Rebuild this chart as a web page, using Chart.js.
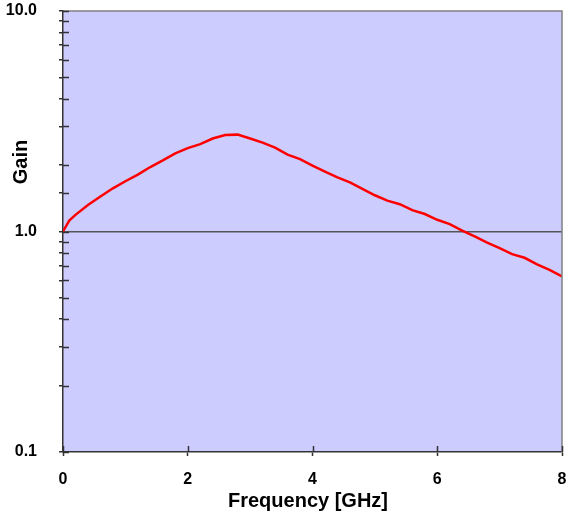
<!DOCTYPE html>
<html>
<head>
<meta charset="utf-8">
<script src="https://cdn.jsdelivr.net/npm/chart.js@4"></script>
<style>
  html, body { margin: 0; padding: 0; background: #fff; }
  #wrap { width: 566px; height: 519px; }
</style>
</head>
<body>
<div id="wrap"><canvas id="myChart" width="566" height="519"></canvas></div>
<script>
// frequency in GHz
const freq = [0, 0.1, 0.2, 0.4, 0.6, 0.8, 1.0, 1.2, 1.4, 1.6, 1.8, 2.0, 2.2, 2.4, 2.6, 2.8,
  3.0, 3.2, 3.4, 3.6, 3.8, 4.0, 4.2, 4.4, 4.6, 4.8, 5.0, 5.2, 5.4, 5.6, 5.8, 6.0,
  6.2, 6.4, 6.6, 6.8, 7.0, 7.2, 7.4, 7.6, 7.8, 8.0];
const gain = [1.00, 1.12, 1.19, 1.32, 1.44, 1.57, 1.69, 1.81, 1.96, 2.10, 2.26, 2.39, 2.49, 2.64, 2.74, 2.75,
  2.64, 2.53, 2.40, 2.23, 2.13, 1.99, 1.87, 1.76, 1.67, 1.56, 1.46, 1.38, 1.33, 1.25, 1.20, 1.13,
  1.08, 1.01, 0.95, 0.89, 0.84, 0.79, 0.76, 0.71, 0.67, 0.625];
const yMajor = [0.1, 1, 10];
const yTickLabels = ['0.1', '1.0', '10.0'];
const xTicks = [0, 2, 4, 6, 8];

const FONT = 'Liberation Sans, Arial, sans-serif';

// background, borders, inner tick halves and axis titles
const decor = {
  id: 'decor',
  beforeDraw(chart) {
    const { ctx, chartArea: a } = chart;
    ctx.save();
    ctx.fillStyle = '#CCCCFF';
    ctx.fillRect(a.left, a.top, a.right - a.left, a.bottom - a.top);
    ctx.restore();
  },
  afterDraw(chart) {
    const { ctx, chartArea: a, scales } = chart;
    ctx.save();
    // top and right border
    ctx.strokeStyle = '#808080';
    ctx.lineWidth = 1.5;
    ctx.beginPath();
    ctx.moveTo(a.left, a.top);
    ctx.lineTo(a.right, a.top);
    ctx.lineTo(a.right, a.bottom);
    ctx.stroke();
    // inner part of ticks
    ctx.strokeStyle = '#333';
    ctx.lineWidth = 1.5;
    ctx.beginPath();
    scales.y.ticks.forEach(t => {
      const py = Math.round(scales.y.getPixelForValue(t.value)) + 0.5;
      ctx.moveTo(a.left, py);
      ctx.lineTo(a.left + 6, py);
    });
    xTicks.forEach(v => {
      const px = Math.round(scales.x.getPixelForValue(v)) + 0.5;
      ctx.moveTo(px, a.bottom);
      ctx.lineTo(px, a.bottom - 6);
    });
    ctx.stroke();
    // axis titles
    ctx.fillStyle = '#000';
    ctx.font = 'bold 20px ' + FONT;
    ctx.textAlign = 'center';
    ctx.textBaseline = 'middle';
    ctx.fillText('Frequency [GHz]', 308, 501);
    ctx.translate(21, 162);
    ctx.rotate(-Math.PI / 2);
    ctx.fillText('Gain', 0, 0);
    ctx.restore();
  }
};

const ctx = document.getElementById('myChart');
new Chart(ctx, {
  type: 'line',
  data: {
    datasets: [{
      data: freq.map((f, i) => ({ x: f, y: gain[i] })),
      borderColor: '#FF0000',
      borderWidth: 2.5,
      pointRadius: 0,
      tension: 0,
      fill: false
    }]
  },
  options: {
    responsive: false,
    animation: false,
    devicePixelRatio: 1,
    layout: { autoPadding: false, padding: { top: 11, right: 4, left: 0, bottom: 0 } },
    plugins: { legend: { display: false }, tooltip: { enabled: false } },
    scales: {
      x: {
        type: 'linear',
        min: 0,
        max: 8,
        afterFit(s) { s.height = 67; s.paddingLeft = 0; s.paddingRight = 0; },
        afterBuildTicks(s) { s.ticks = xTicks.map(v => ({ value: v })); },
        ticks: {
          color: '#000',
          font: { family: FONT, size: 16, weight: 'bold' },
          padding: 14,
          maxRotation: 0
        },
        grid: { drawOnChartArea: false, tickLength: 4, tickColor: '#333', tickWidth: 1.5 },
        border: { color: '#333', width: 1.5 }
      },
      y: {
        type: 'logarithmic',
        min: 0.1,
        max: 10,
        afterFit(s) { s.width = 63; s.paddingTop = 0; s.paddingBottom = 0; },
        ticks: {
          autoSkip: false,
          color: '#000',
          font: { family: FONT, size: 16, weight: 'bold' },
          padding: 22,
          callback(v) {
            const i = yMajor.findIndex(m => Math.abs(v - m) < 1e-9);
            return i >= 0 ? yTickLabels[i] : '';
          }
        },
        grid: {
          drawOnChartArea: true,
          color: c => (c.tick && Math.abs(c.tick.value - 1) < 1e-9) ? '#555' : 'rgba(0,0,0,0)',
          lineWidth: 1.5,
          tickLength: 4,
          tickColor: '#333',
          tickWidth: 1.5
        },
        border: { color: '#333', width: 1.5 }
      }
    }
  },
  plugins: [decor]
});
</script>
</body>
</html>
